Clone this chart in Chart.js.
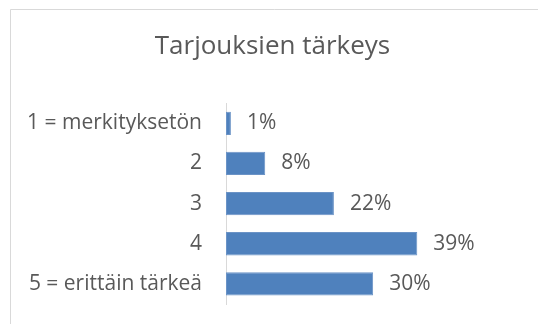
<!DOCTYPE html>
<html>
<head>
<meta charset="utf-8">
<script src="https://cdn.jsdelivr.net/npm/chart.js@4.4.1/dist/chart.umd.min.js"></script>
<style>
  html, body { margin: 0; padding: 0; background: #fff; }
  #wrap { width: 538px; height: 324px; position: relative; }
</style>
</head>
<body>
<div id="wrap"><canvas id="c" width="538" height="324"></canvas></div>
<script>
// Survey answers: how important are offers (share of respondents, %)
const categories = ['1 = merkityksetön', '2', '3', '4', '5 = erittäin tärkeä'];
const shares = [1, 8, 22, 39, 30];
const chartTitle = 'Tarjouksien tärkeys';

const TEXT = '#595959';
const FONT = '"Open Sans", "Liberation Sans", sans-serif';

// Light frame along the top and left edges of the chart box
const framePlugin = {
  id: 'frame',
  beforeDraw(chart) {
    const ctx = chart.ctx;
    ctx.save();
    ctx.fillStyle = '#ffffff';
    ctx.fillRect(0, 0, chart.width, chart.height);
    ctx.strokeStyle = '#d9d9d9';
    ctx.lineWidth = 1;
    ctx.beginPath();
    ctx.moveTo(10.5, chart.height);
    ctx.lineTo(10.5, 9.5);
    ctx.lineTo(chart.width, 9.5);
    ctx.stroke();
    ctx.restore();
  }
};

// Percentage labels just past the end of each bar
const valueLabels = {
  id: 'valueLabels',
  afterDatasetsDraw(chart) {
    const ctx = chart.ctx;
    const meta = chart.getDatasetMeta(0);
    ctx.save();
    ctx.fillStyle = TEXT;
    ctx.font = '21px ' + FONT;
    ctx.textAlign = 'left';
    ctx.textBaseline = 'middle';
    meta.data.forEach((bar, i) => {
      ctx.fillText(shares[i] + '%', bar.x + 16, bar.y);
    });
    ctx.restore();
  }
};

new Chart(document.getElementById('c'), {
  type: 'bar',
  data: {
    labels: categories,
    datasets: [{
      data: shares,
      backgroundColor: '#4f81bd',
      borderColor: '#6b93c6',
      borderWidth: 1,
      borderSkipped: false,
      barPercentage: 0.58,
      categoryPercentage: 1
    }]
  },
  options: {
    indexAxis: 'y',
    responsive: false,
    devicePixelRatio: 1,
    animation: false,
    layout: { padding: { left: 10, right: 3, top: 0, bottom: 20 } },
    plugins: {
      legend: { display: false },
      tooltip: { enabled: false },
      title: {
        display: true,
        text: chartTitle,
        color: TEXT,
        font: { family: FONT, size: 26, weight: 'normal', lineHeight: 1.2 },
        padding: { top: 31, bottom: 41 }
      }
    },
    scales: {
      x: {
        display: false,
        min: 0,
        max: 63
      },
      y: {
        position: 'left',
        grid: { display: false, drawTicks: false },
        border: { display: true, color: '#d9d9d9', width: 1 },
        ticks: {
          color: TEXT,
          font: { family: FONT, size: 21 },
          padding: 24
        },
        afterFit(scale) {
          // fixed label column; the category bands fill the full plot height
          scale.width = 216;
          scale.paddingTop = 0;
          scale.paddingBottom = 0;
        }
      }
    }
  },
  plugins: [framePlugin, valueLabels]
});
</script>
</body>
</html>
